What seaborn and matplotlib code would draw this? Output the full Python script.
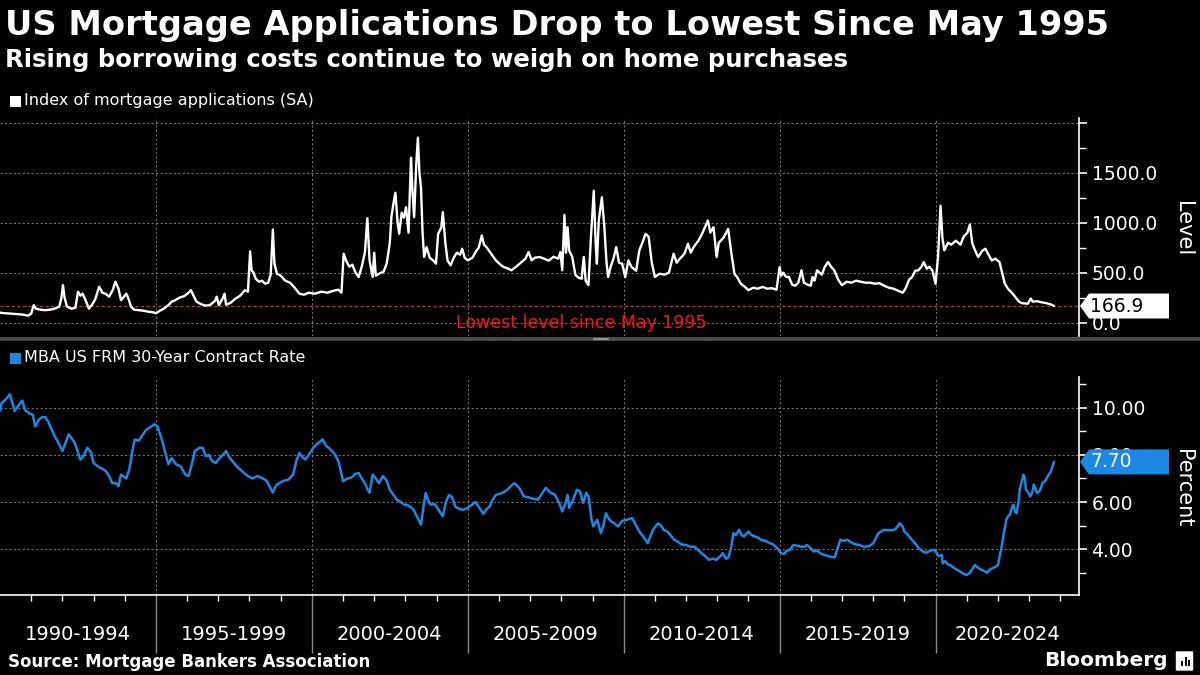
import numpy as np
import pandas as pd
import matplotlib
matplotlib.use("Agg")
import matplotlib.pyplot as plt
import seaborn as sns
from matplotlib.patches import Rectangle, Polygon, FancyBboxPatch
from matplotlib.transforms import IdentityTransform, blended_transform_factory
from matplotlib.lines import Line2D

# ---------------- data ----------------
title = "US Mortgage Applications Drop to Lowest Since May 1995"
subtitle = "Rising borrowing costs continue to weigh on home purchases"
source = "Source: Mortgage Bankers Association"
series1_name = "Index of mortgage applications (SA)"
series2_name = "MBA US FRM 30-Year Contract Rate"
annotation = "Lowest level since May 1995"

app_year = [
    1990.00, 1990.15, 1990.30, 1990.45, 1990.60, 1990.75, 1990.90, 1991.00, 1991.08, 1991.15,
    1991.30, 1991.45, 1991.60, 1991.75, 1991.90, 1991.97, 1992.02, 1992.07, 1992.15, 1992.30,
    1992.42, 1992.50, 1992.58, 1992.65, 1992.75, 1992.85, 1992.95, 1993.05, 1993.18, 1993.28,
    1993.38, 1993.50, 1993.62, 1993.70, 1993.80, 1993.88, 1993.95, 1994.05, 1994.12, 1994.20,
    1994.30, 1994.45, 1994.60, 1994.75, 1994.90, 1995.00, 1995.10, 1995.25, 1995.40, 1995.50,
    1995.62, 1995.75, 1995.90, 1996.05, 1996.12, 1996.22, 1996.30, 1996.45, 1996.60, 1996.75,
    1996.90, 1996.95, 1997.02, 1997.15, 1997.20, 1997.25, 1997.40, 1997.55, 1997.70, 1997.85,
    1997.95, 1998.02, 1998.07, 1998.12, 1998.20, 1998.30, 1998.40, 1998.50, 1998.60, 1998.68,
    1998.75, 1998.80, 1998.88, 1999.00, 1999.15, 1999.30, 1999.45, 1999.60, 1999.75, 1999.90,
    2000.10, 2000.30, 2000.50, 2000.70, 2000.85, 2000.95, 2001.02, 2001.10, 2001.20, 2001.30,
    2001.40, 2001.50, 2001.60, 2001.70, 2001.78, 2001.85, 2001.95, 2002.00, 2002.05, 2002.15,
    2002.30, 2002.40, 2002.50, 2002.55, 2002.62, 2002.68, 2002.75, 2002.80, 2002.88, 2002.95,
    2003.02, 2003.10, 2003.18, 2003.22, 2003.28, 2003.35, 2003.40, 2003.45, 2003.50, 2003.55,
    2003.60, 2003.68, 2003.78, 2003.90, 2003.98, 2004.05, 2004.15, 2004.20, 2004.28, 2004.35,
    2004.45, 2004.55, 2004.65, 2004.75, 2004.82, 2004.90, 2005.00, 2005.15, 2005.25, 2005.35,
    2005.45, 2005.52, 2005.60, 2005.75, 2005.90, 2006.05, 2006.15, 2006.30, 2006.40, 2006.55,
    2006.70, 2006.85, 2006.95, 2007.05, 2007.15, 2007.30, 2007.45, 2007.60, 2007.75, 2007.90,
    2007.97, 2008.03, 2008.10, 2008.15, 2008.20, 2008.25, 2008.35, 2008.45, 2008.55, 2008.65,
    2008.72, 2008.78, 2008.87, 2008.95, 2009.04, 2009.10, 2009.14, 2009.20, 2009.30, 2009.38,
    2009.45, 2009.50, 2009.58, 2009.68, 2009.76, 2009.85, 2009.95, 2010.05, 2010.15, 2010.25,
    2010.40, 2010.50, 2010.60, 2010.70, 2010.80, 2010.90, 2011.00, 2011.15, 2011.30, 2011.45,
    2011.60, 2011.70, 2011.80, 2011.95, 2012.06, 2012.15, 2012.25, 2012.40, 2012.50, 2012.60,
    2012.70, 2012.78, 2012.88, 2012.98, 2013.05, 2013.20, 2013.35, 2013.45, 2013.55, 2013.65,
    2013.75, 2013.88, 2014.00, 2014.15, 2014.30, 2014.45, 2014.60, 2014.75, 2014.90, 2015.00,
    2015.05, 2015.12, 2015.20, 2015.30, 2015.40, 2015.50, 2015.60, 2015.70, 2015.78, 2015.90,
    2016.00, 2016.05, 2016.12, 2016.20, 2016.35, 2016.45, 2016.55, 2016.65, 2016.75, 2016.88,
    2017.00, 2017.15, 2017.30, 2017.45, 2017.60, 2017.75, 2017.90, 2018.05, 2018.20, 2018.35,
    2018.50, 2018.65, 2018.80, 2018.95, 2019.05, 2019.15, 2019.25, 2019.35, 2019.45, 2019.55,
    2019.62, 2019.72, 2019.80, 2019.90, 2020.00, 2020.08, 2020.16, 2020.22, 2020.28, 2020.40,
    2020.50, 2020.65, 2020.80, 2020.90, 2021.02, 2021.10, 2021.18, 2021.30, 2021.37, 2021.50,
    2021.60, 2021.70, 2021.80, 2021.92, 2022.05, 2022.15, 2022.22, 2022.32, 2022.42, 2022.55,
    2022.68, 2022.78, 2022.88, 2022.96, 2023.05, 2023.12, 2023.25, 2023.38, 2023.50, 2023.62,
    2023.72, 2023.80,
]
app_index = [
    100, 95, 92, 88, 85, 80, 70, 90, 175, 140,
    130, 125, 130, 140, 160, 250, 375, 250, 160, 140,
    150, 310, 270, 290, 220, 140, 180, 230, 360, 300,
    290, 260, 330, 410, 340, 225, 250, 290, 240, 160,
    130, 125, 120, 110, 105, 95, 115, 140, 175, 210,
    225, 250, 265, 300, 325, 260, 210, 185, 170, 180,
    220, 260, 175, 250, 290, 180, 200, 240, 270, 325,
    310, 713, 520, 507, 440, 410, 420, 390, 400, 480,
    932, 590, 490, 470, 420, 400, 350, 290, 280, 300,
    290, 310, 300, 320, 330, 300, 690, 620, 560, 580,
    500, 457, 560, 700, 1045, 623, 457, 700, 470, 490,
    510, 590, 800, 1055, 1200, 1300, 1000, 890, 1100, 1050,
    1155, 900, 1650, 1350, 1055, 1600, 1850, 1500, 1350, 900,
    657, 756, 650, 620, 590, 890, 950, 1105, 800, 623,
    574, 650, 700, 680, 740, 650, 623, 650, 707, 750,
    872, 780, 756, 690, 623, 580, 557, 540, 524, 560,
    600, 640, 707, 623, 650, 657, 640, 620, 660, 640,
    706, 524, 1078, 700, 955, 723, 657, 480, 450, 440,
    657, 420, 375, 855, 1320, 800, 590, 1020, 1254, 955,
    600, 457, 557, 650, 756, 600, 590, 457, 623, 557,
    520, 723, 800, 889, 860, 600, 457, 490, 480, 500,
    690, 600, 640, 690, 790, 700, 760, 822, 880, 950,
    1022, 900, 956, 657, 800, 850, 939, 700, 490, 450,
    391, 360, 325, 350, 340, 358, 340, 345, 330, 557,
    470, 500, 460, 457, 380, 370, 400, 524, 400, 380,
    370, 457, 420, 524, 480, 560, 607, 560, 524, 430,
    375, 410, 400, 420, 410, 400, 400, 390, 395, 370,
    350, 340, 320, 300, 350, 430, 457, 520, 524, 560,
    607, 540, 560, 520, 390, 657, 1170, 850, 723, 800,
    780, 820, 780, 860, 900, 982, 790, 700, 657, 720,
    740, 680, 623, 640, 607, 480, 391, 340, 308, 260,
    209, 195, 192, 190, 242, 210, 215, 205, 199, 190,
    180, 166.9,
]

rate_year = [
    1990.00, 1990.05, 1990.15, 1990.25, 1990.32, 1990.40, 1990.47, 1990.55, 1990.65, 1990.72,
    1990.80, 1990.95, 1991.05, 1991.13, 1991.25, 1991.35, 1991.45, 1991.55, 1991.65, 1991.75,
    1991.88, 1992.00, 1992.10, 1992.20, 1992.30, 1992.40, 1992.50, 1992.58, 1992.66, 1992.80,
    1992.92, 1993.00, 1993.15, 1993.30, 1993.40, 1993.50, 1993.60, 1993.72, 1993.80, 1993.88,
    1993.95, 1994.05, 1994.15, 1994.25, 1994.32, 1994.45, 1994.55, 1994.70, 1994.85, 1994.95,
    1995.05, 1995.20, 1995.30, 1995.40, 1995.50, 1995.65, 1995.80, 1995.95, 1996.05, 1996.15,
    1996.25, 1996.40, 1996.50, 1996.60, 1996.70, 1996.80, 1996.92, 1997.00, 1997.15, 1997.25,
    1997.35, 1997.50, 1997.60, 1997.70, 1997.85, 1997.95, 1998.10, 1998.25, 1998.40, 1998.55,
    1998.70, 1998.75, 1998.85, 1998.95, 1999.10, 1999.25, 1999.40, 1999.50, 1999.60, 1999.70,
    1999.80, 1999.95, 2000.05, 2000.20, 2000.35, 2000.45, 2000.60, 2000.75, 2000.85, 2000.95,
    2001.00, 2001.15, 2001.25, 2001.40, 2001.50, 2001.60, 2001.70, 2001.80, 2001.85, 2001.95,
    2002.05, 2002.15, 2002.28, 2002.40, 2002.50, 2002.62, 2002.72, 2002.85, 2002.95, 2003.10,
    2003.25, 2003.40, 2003.50, 2003.58, 2003.65, 2003.72, 2003.80, 2003.95, 2004.10, 2004.20,
    2004.30, 2004.40, 2004.50, 2004.60, 2004.75, 2004.85, 2005.00, 2005.15, 2005.25, 2005.40,
    2005.50, 2005.60, 2005.70, 2005.80, 2005.90, 2006.10, 2006.25, 2006.40, 2006.50, 2006.65,
    2006.80, 2006.95, 2007.05, 2007.25, 2007.40, 2007.50, 2007.65, 2007.80, 2007.95, 2008.03,
    2008.12, 2008.20, 2008.25, 2008.35, 2008.50, 2008.60, 2008.70, 2008.80, 2008.88, 2008.97,
    2009.03, 2009.15, 2009.27, 2009.35, 2009.43, 2009.52, 2009.60, 2009.70, 2009.82, 2009.95,
    2010.10, 2010.27, 2010.40, 2010.50, 2010.65, 2010.77, 2010.87, 2010.94, 2011.10, 2011.20,
    2011.28, 2011.40, 2011.50, 2011.62, 2011.73, 2011.85, 2012.00, 2012.15, 2012.28, 2012.40,
    2012.50, 2012.62, 2012.74, 2012.85, 2012.96, 2013.10, 2013.18, 2013.28, 2013.35, 2013.45,
    2013.52, 2013.60, 2013.70, 2013.78, 2013.86, 2014.00, 2014.10, 2014.20, 2014.30, 2014.40,
    2014.55, 2014.70, 2014.80, 2014.95, 2015.05, 2015.15, 2015.20, 2015.35, 2015.44, 2015.55,
    2015.67, 2015.80, 2015.87, 2015.95, 2016.10, 2016.20, 2016.30, 2016.45, 2016.60, 2016.77,
    2016.85, 2016.95, 2017.05, 2017.17, 2017.34, 2017.45, 2017.56, 2017.70, 2017.78, 2017.90,
    2018.00, 2018.10, 2018.17, 2018.34, 2018.50, 2018.68, 2018.78, 2018.85, 2018.95, 2019.00,
    2019.12, 2019.24, 2019.35, 2019.46, 2019.60, 2019.70, 2019.85, 2019.97, 2020.10, 2020.20,
    2020.23, 2020.30, 2020.40, 2020.47, 2020.60, 2020.70, 2020.85, 2020.98, 2021.09, 2021.20,
    2021.26, 2021.38, 2021.48, 2021.60, 2021.65, 2021.75, 2021.82, 2021.92, 2022.00, 2022.10,
    2022.18, 2022.27, 2022.33, 2022.38, 2022.46, 2022.50, 2022.55, 2022.60, 2022.66, 2022.70,
    2022.77, 2022.82, 2022.86, 2022.90, 2022.97, 2023.04, 2023.10, 2023.15, 2023.22, 2023.26,
    2023.35, 2023.43, 2023.52, 2023.60, 2023.70, 2023.80,
]
rate_pct = [
    9.86, 10.2, 10.3, 10.45, 10.57, 10.2, 9.86, 10.0, 10.2, 10.3,
    9.9, 9.75, 9.7, 9.2, 9.5, 9.6, 9.6, 9.4, 9.1, 8.8,
    8.5, 8.16, 8.5, 8.87, 8.7, 8.5, 8.1, 7.8, 7.9, 8.3,
    8.1, 7.66, 7.5, 7.4, 7.3, 7.1, 6.8, 6.8, 6.67, 7.16,
    7.1, 7.0, 7.4, 8.2, 8.65, 8.6, 8.8, 9.08, 9.2, 9.3,
    9.2, 8.6, 8.1, 7.6, 7.87, 7.6, 7.5, 7.15, 7.1, 7.6,
    8.16, 8.3, 8.3, 7.94, 8.0, 7.73, 7.65, 7.8, 8.0, 8.16,
    7.9, 7.66, 7.5, 7.38, 7.2, 7.1, 7.0, 7.1, 7.02, 6.9,
    6.52, 6.4, 6.7, 6.8, 6.9, 6.95, 7.16, 7.73, 8.08, 7.9,
    7.8, 8.1, 8.3, 8.5, 8.65, 8.4, 8.23, 8.0, 7.73, 7.2,
    6.88, 7.0, 7.02, 7.2, 7.23, 7.0, 6.8, 6.5, 6.4, 7.16,
    7.0, 6.8, 7.1, 6.9, 6.52, 6.3, 6.1, 6.0, 5.9, 5.85,
    5.7, 5.3, 5.04, 5.8, 6.38, 6.1, 5.9, 5.9, 5.6, 5.4,
    6.0, 6.3, 6.2, 5.8, 5.7, 5.67, 5.75, 5.9, 6.0, 5.7,
    5.5, 5.7, 5.8, 6.1, 6.3, 6.38, 6.5, 6.7, 6.8, 6.6,
    6.24, 6.2, 6.15, 6.1, 6.4, 6.6, 6.4, 6.3, 5.9, 5.6,
    5.9, 6.3, 5.75, 6.0, 6.52, 6.45, 5.96, 6.4, 6.2, 5.25,
    4.96, 5.25, 4.68, 5.0, 5.53, 5.3, 5.18, 5.1, 4.96, 5.2,
    5.25, 5.32, 5.0, 4.75, 4.5, 4.25, 4.6, 4.82, 5.1, 5.0,
    4.82, 4.75, 4.6, 4.4, 4.33, 4.2, 4.18, 4.1, 4.11, 3.95,
    3.83, 3.7, 3.55, 3.6, 3.55, 3.7, 3.83, 3.6, 3.62, 4.1,
    4.68, 4.6, 4.82, 4.6, 4.54, 4.75, 4.6, 4.54, 4.5, 4.4,
    4.35, 4.25, 4.2, 4.0, 3.83, 3.8, 3.9, 4.0, 4.18, 4.15,
    4.11, 4.1, 4.18, 4.1, 3.9, 3.95, 3.83, 3.75, 3.69, 3.65,
    4.0, 4.4, 4.35, 4.4, 4.25, 4.2, 4.18, 4.1, 4.11, 4.15,
    4.25, 4.5, 4.68, 4.82, 4.8, 4.82, 4.95, 5.1, 4.95, 4.75,
    4.6, 4.4, 4.25, 4.04, 3.9, 3.85, 3.95, 3.97, 3.7, 3.76,
    3.4, 3.5, 3.35, 3.33, 3.2, 3.12, 3.0, 2.9, 2.98, 3.2,
    3.33, 3.2, 3.12, 3.05, 3.0, 3.15, 3.19, 3.25, 3.33, 3.97,
    4.6, 5.25, 5.4, 5.46, 5.8, 5.89, 5.6, 5.53, 6.0, 6.52,
    6.9, 7.16, 7.0, 6.52, 6.4, 6.24, 6.4, 6.74, 6.5, 6.38,
    6.5, 6.81, 6.9, 7.09, 7.3, 7.70,
]

period_starts = [1990, 1995, 2000, 2005, 2010, 2015, 2020]
period_labels = ["1990-1994", "1995-1999", "2000-2004", "2005-2009",
                 "2010-2014", "2015-2019", "2020-2024"]
level_ticks = [0, 500, 1000, 1500, 2000]
level_ticklabels = ["0.0", "500.0", "1000.0", "1500.0", ""]
rate_ticks = [4, 6, 8, 10]
rate_ticklabels = ["4.00", "6.00", "8.00", "10.00"]

# ---------------- style ----------------
BG = "#000000"
BLUE = "#1d87e4"
GRID = "#6f6f6f"
sns.set_theme(style="dark", rc={
    "axes.facecolor": BG, "figure.facecolor": BG, "savefig.facecolor": BG,
    "text.color": "white", "axes.labelcolor": "white",
    "xtick.color": "white", "ytick.color": "white",
})
plt.rcParams["font.family"] = ["DejaVu Sans"]

W, H = 1200, 675
fig = plt.figure(figsize=(12, 6.75), dpi=100)

XMIN, XMAX = 1990.0, 2024.6
ax1 = fig.add_axes([0, 1 - 336 / H, 1079 / W, 218 / H])
ax2 = fig.add_axes([0, 1 - 595 / H, 1079 / W, 218 / H])

df1 = pd.DataFrame({"year": app_year, "index": app_index})
df2 = pd.DataFrame({"year": rate_year, "rate": rate_pct})

sns.lineplot(data=df1, x="year", y="index", ax=ax1, color="white",
             linewidth=1.7, sort=False)
sns.lineplot(data=df2, x="year", y="rate", ax=ax2, color=BLUE,
             linewidth=1.8, sort=False)

last_app = app_index[-1]
last_rate = rate_pct[-1]

ax1.axhline(last_app, color="#e0234e", lw=0.9, ls=(0, (2.5, 2)), zorder=1)

for ax in (ax1, ax2):
    ax.set_xlim(XMIN, XMAX)
    ax.set_xlabel("")
    ax.set_ylabel("")
    for s in ("top", "left", "bottom"):
        ax.spines[s].set_visible(False)
    ax.spines["right"].set_visible(True)
    ax.spines["right"].set_color("white")
    ax.spines["right"].set_linewidth(1.2)
    ax.yaxis.tick_right()
    ax.set_xticks(period_starts[1:])
    ax.grid(True, which="major", color=GRID, lw=0.8, ls=(0, (2, 2)))
    ax.tick_params(axis="y", which="major", direction="out", length=6, width=1.2,
                   colors="white", labelsize=13.5, pad=3, right=True, left=False)
    ax.tick_params(axis="y", which="minor", direction="out", length=5, width=1.0,
                   colors="white", right=True, left=False)

ax1.set_ylim(-133, 2047)
ax1.set_yticks(level_ticks)
ax1.set_yticklabels(level_ticklabels)
ax1.set_yticks([250, 750, 1250, 1750], minor=True)
ax1.tick_params(axis="x", which="both", length=0, labelbottom=False)

ax2.set_ylim(2.06, 11.3)
ax2.set_yticks(rate_ticks)
ax2.set_yticklabels(rate_ticklabels)
ax2.set_yticks([3, 5, 7, 9, 11], minor=True)
ax2.spines["bottom"].set_visible(True)
ax2.spines["bottom"].set_color("white")
ax2.spines["bottom"].set_linewidth(1.2)
ax2.set_xticks(np.arange(1991, 2025), minor=True)
ax2.tick_params(axis="x", which="major", direction="out", length=42, width=1.0,
                color="#8a8a8a", labelbottom=False, bottom=True)
ax2.tick_params(axis="x", which="minor", direction="out", length=4, width=1.0,
                color="white", bottom=True)

btrans = blended_transform_factory(ax2.transData, ax2.transAxes)
for start, lab in zip(period_starts, period_labels):
    center = (start + min(start + 5, XMAX)) / 2
    ax2.text(center, -0.18, lab, transform=btrans, ha="center", va="center",
             fontsize=14, color="white")

# annotation
ax1.text(0.5385, 0.06, annotation, transform=ax1.transAxes, ha="center",
         va="center", color="#ff1010", fontsize=12.5)

# ---------------- figure texts ----------------
fig.text(5 / W, 1 - 25 / H, title, fontsize=24.2, fontweight="bold",
         color="white", ha="left", va="center")
fig.text(5 / W, 1 - 60 / H, subtitle, fontsize=17.6, fontweight="bold",
         color="white", ha="left", va="center")
fig.text(8 / W, 1 - 662 / H, source, fontsize=12, fontweight="bold",
         color="white", ha="left", va="center")
fig.text(1168 / W, 1 - 660 / H, "Bloomberg", fontsize=14.5, fontweight="semibold",
         color="white", ha="right", va="center")
fig.add_artist(FancyBboxPatch((1177 / W, 1 - 670 / H), 15 / W, 18 / H,
                              boxstyle="round,pad=0.001", transform=fig.transFigure,
                              facecolor="white", edgecolor="none"))
for bx, bh in ((1181, 5), (1184.5, 9), (1188, 6)):
    fig.add_artist(Rectangle((bx / W, 1 - 666 / H), 2 / W, bh / H,
                             transform=fig.transFigure, facecolor="black",
                             edgecolor="none"))

# legends
fig.add_artist(Rectangle((10 / W, 1 - 107 / H), 11 / W, 11 / H,
                         transform=fig.transFigure, facecolor="white", edgecolor="none"))
fig.text(24 / W, 1 - 101 / H, series1_name, fontsize=11.5, color="white",
         ha="left", va="center")
fig.add_artist(Rectangle((10 / W, 1 - 364 / H), 11 / W, 11 / H,
                         transform=fig.transFigure, facecolor=BLUE, edgecolor="none"))
fig.text(24 / W, 1 - 358 / H, series2_name, fontsize=11.5, color="white",
         ha="left", va="center")

# axis titles on the right
fig.text(1183 / W, 1 - 229 / H, "Level", rotation=270, fontsize=15,
         color="white", ha="center", va="center")
fig.text(1183 / W, 1 - 488 / H, "Percent", rotation=270, fontsize=15,
         color="white", ha="center", va="center")

# separator bar between panels
fig.add_artist(Rectangle((0, 1 - 340.5 / H), 1, 4 / H, transform=fig.transFigure,
                         facecolor="#4a4a4a", edgecolor="none"))
for yy in (337.6, 339.4):
    fig.add_artist(Line2D([593 / W, 608 / W], [1 - yy / H, 1 - yy / H],
                          transform=fig.transFigure, color="#a0a0a0", lw=0.6))


# value tags (drawn over the axis labels, as in the reference)
def value_tag(ax, value, text, face, tcolor):
    xr = ax.transAxes.transform((1, 0))[0]
    yv = ax.transData.transform((XMIN, value))[1]
    h = 12.5
    pts = [(xr + 1, yv), (xr + 10, yv + h), (xr + 90, yv + h),
           (xr + 90, yv - h), (xr + 10, yv - h)]
    fig.add_artist(Polygon(pts, closed=True, transform=IdentityTransform(),
                           facecolor=face, edgecolor="none", zorder=5))
    fig.text(xr + 11, yv, text, transform=IdentityTransform(), fontsize=13.5,
             color=tcolor, ha="left", va="center", zorder=6)


value_tag(ax1, last_app, f"{last_app:.1f}", "white", "black")
value_tag(ax2, last_rate, f"{last_rate:.2f}", BLUE, "white")

fig.savefig("out.png", dpi=100, facecolor=BG)
